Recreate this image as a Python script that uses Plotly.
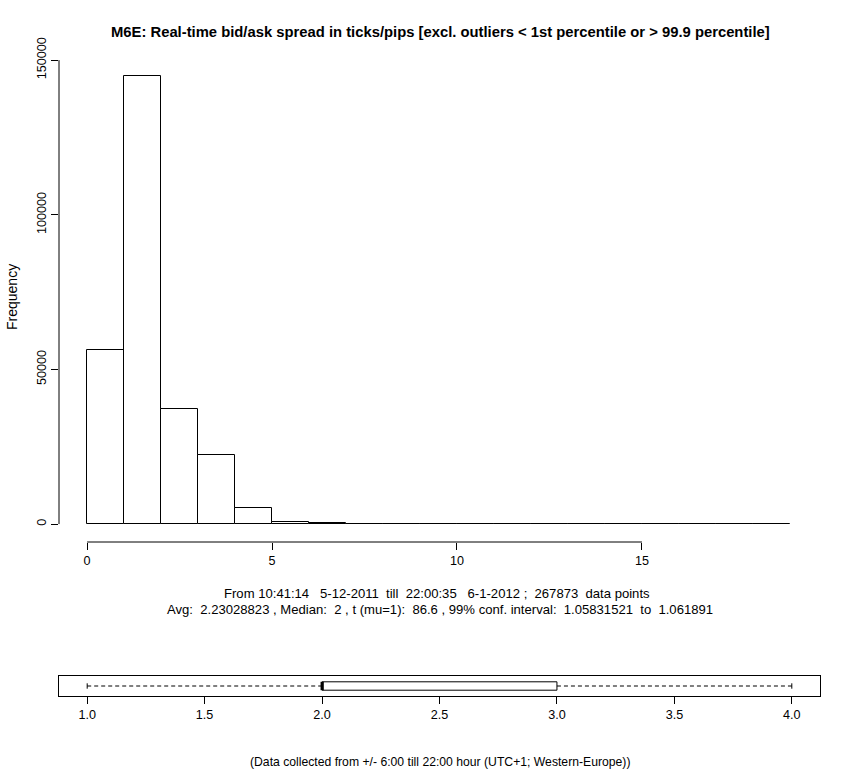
import plotly.graph_objects as go

# %%
# histogram data (bins of width 1, counts)
bin_left = list(range(0, 19))
counts = [56300, 144900, 37100, 22200, 5070, 650, 300,
          60, 50, 45, 40, 35, 30, 25, 20, 20, 15, 15, 10]
hist_ticks = [0, 5, 10, 15]
freq_ticks = [0, 50000, 100000, 150000]

# boxplot stats: lower whisker, q1, median, q3, upper whisker
box_stats = [1, 2, 2, 3, 4]
box_ticks = [1.0, 1.5, 2.0, 2.5, 3.0, 3.5, 4.0]

title = "M6E: Real-time bid/ask spread in ticks/pips [excl. outliers < 1st percentile or > 99.9 percentile]"
line1 = "From 10:41:14   5-12-2011  till  22:00:35   6-1-2012 ;  267873  data points"
line2 = "Avg:  2.23028823 , Median:  2 , t (mu=1):  86.6 , 99% conf. interval:  1.05831521  to  1.061891"
footer = "(Data collected from +/- 6:00 till 22:00 hour (UTC+1; Western-Europe))"

W, H = 850, 770
FONT = "Liberation Sans, Arial, sans-serif"


def nb(s):
    # keep the multiple spaces R printed
    return s.replace(" ", "\u00a0")


def py(px):
    return 1 - px / H


def pxx(px):
    return px / W


# %%
fig = go.Figure()

fig.add_trace(go.Bar(x=bin_left, y=counts, width=1, offset=0,
                     marker=dict(color="white", line=dict(color="black", width=1)),
                     showlegend=False, hoverinfo="y"))

lw, q1, med, q3, uw = box_stats
fig.add_trace(go.Box(y=[0], q1=[q1], median=[med], q3=[q3], lowerfence=[q1], upperfence=[q3],
                     orientation="h", width=0.84, whiskerwidth=0,
                     fillcolor="white", line=dict(color="black", width=1),
                     xaxis="x2", yaxis="y2", showlegend=False))
for seg in ([lw, q1], [q3, uw]):
    fig.add_trace(go.Scatter(x=seg, y=[0, 0], mode="lines", xaxis="x2", yaxis="y2",
                             line=dict(color="black", width=1, dash="4px,3px"), showlegend=False))
for cap in (lw, uw):
    fig.add_trace(go.Scatter(x=[cap, cap], y=[-0.27, 0.27], mode="lines", xaxis="x2", yaxis="y2",
                             line=dict(color="black", width=1), showlegend=False))
fig.add_trace(go.Scatter(x=[med, med], y=[-0.42, 0.42], mode="lines", xaxis="x2", yaxis="y2",
                         line=dict(color="black", width=3), showlegend=False))

# %%
tickfont = dict(family=FONT, size=12.6, color="black")
pad_x = 0.04 * (bin_left[-1] + 1)
pad_y = 0.04 * max(counts)

fig.update_layout(
    width=W, height=H,
    margin=dict(l=0, r=0, t=0, b=0, autoexpand=False),
    paper_bgcolor="white", plot_bgcolor="white",
    font=dict(family=FONT, color="black"),
    bargap=0,
    xaxis=dict(domain=[pxx(59), pxx(818)], range=[-pad_x, bin_left[-1] + 1 + pad_x],
               tickvals=hist_ticks, ticks="outside", ticklen=7, tickcolor="black",
               showline=False, showgrid=False, zeroline=False, tickfont=tickfont,
               anchor="y", automargin=False),
    yaxis=dict(domain=[py(542), py(58)], range=[-pad_y, max(counts) + pad_y],
               tickvals=freq_ticks, ticktext=[str(v) for v in freq_ticks],
               ticks="outside", ticklen=7, tickcolor="black",
               tickangle=-90, showline=False, showgrid=False, zeroline=False,
               tickfont=tickfont, anchor="x", automargin=False),
    xaxis2=dict(domain=[pxx(59), pxx(820)], range=[lw - 0.04 * (uw - lw), uw + 0.04 * (uw - lw)],
                tickvals=box_ticks, ticktext=[f"{t:.1f}" for t in box_ticks],
                ticks="outside", ticklen=7, tickcolor="black",
                showline=True, mirror=True, linecolor="black", linewidth=1,
                showgrid=False, zeroline=False, tickfont=tickfont, anchor="y2", automargin=False),
    yaxis2=dict(domain=[py(696), py(676)], range=[-1, 1], showticklabels=False,
                showline=True, mirror=True, linecolor="black", linewidth=1,
                showgrid=False, zeroline=False, anchor="x2", automargin=False),
    shapes=[
        dict(type="line", xref="x", yref="paper", x0=hist_ticks[0], x1=hist_ticks[-1],
             y0=py(542), y1=py(542), line=dict(color="black", width=1)),
        dict(type="line", xref="paper", yref="y", x0=pxx(59), x1=pxx(59),
             y0=freq_ticks[0], y1=freq_ticks[-1], line=dict(color="black", width=1)),
    ],
    annotations=[
        dict(text="<b>" + title + "</b>", x=pxx(440), y=py(32), xref="paper", yref="paper",
             xanchor="center", yanchor="middle", showarrow=False, font=dict(family=FONT, size=14.8)),
        dict(text="Frequency", x=pxx(12), y=py(297), xref="paper", yref="paper", textangle=-90,
             xanchor="center", yanchor="middle", showarrow=False, font=dict(family=FONT, size=14)),
        dict(text=nb(line1), x=pxx(437), y=py(593), xref="paper", yref="paper",
             xanchor="center", yanchor="middle", showarrow=False, font=dict(family=FONT, size=13.1)),
        dict(text=nb(line2), x=pxx(440), y=py(609), xref="paper", yref="paper",
             xanchor="center", yanchor="middle", showarrow=False, font=dict(family=FONT, size=13.1)),
        dict(text=footer, x=pxx(440), y=py(762), xref="paper", yref="paper",
             xanchor="center", yanchor="middle", showarrow=False, font=dict(family=FONT, size=12.2)),
    ],
)

# drop the page's default 8px body margin so the figure fills the window
fig.write_html("out.html", config={"displayModeBar": False},
               post_script="document.body.style.margin = '0px';")
